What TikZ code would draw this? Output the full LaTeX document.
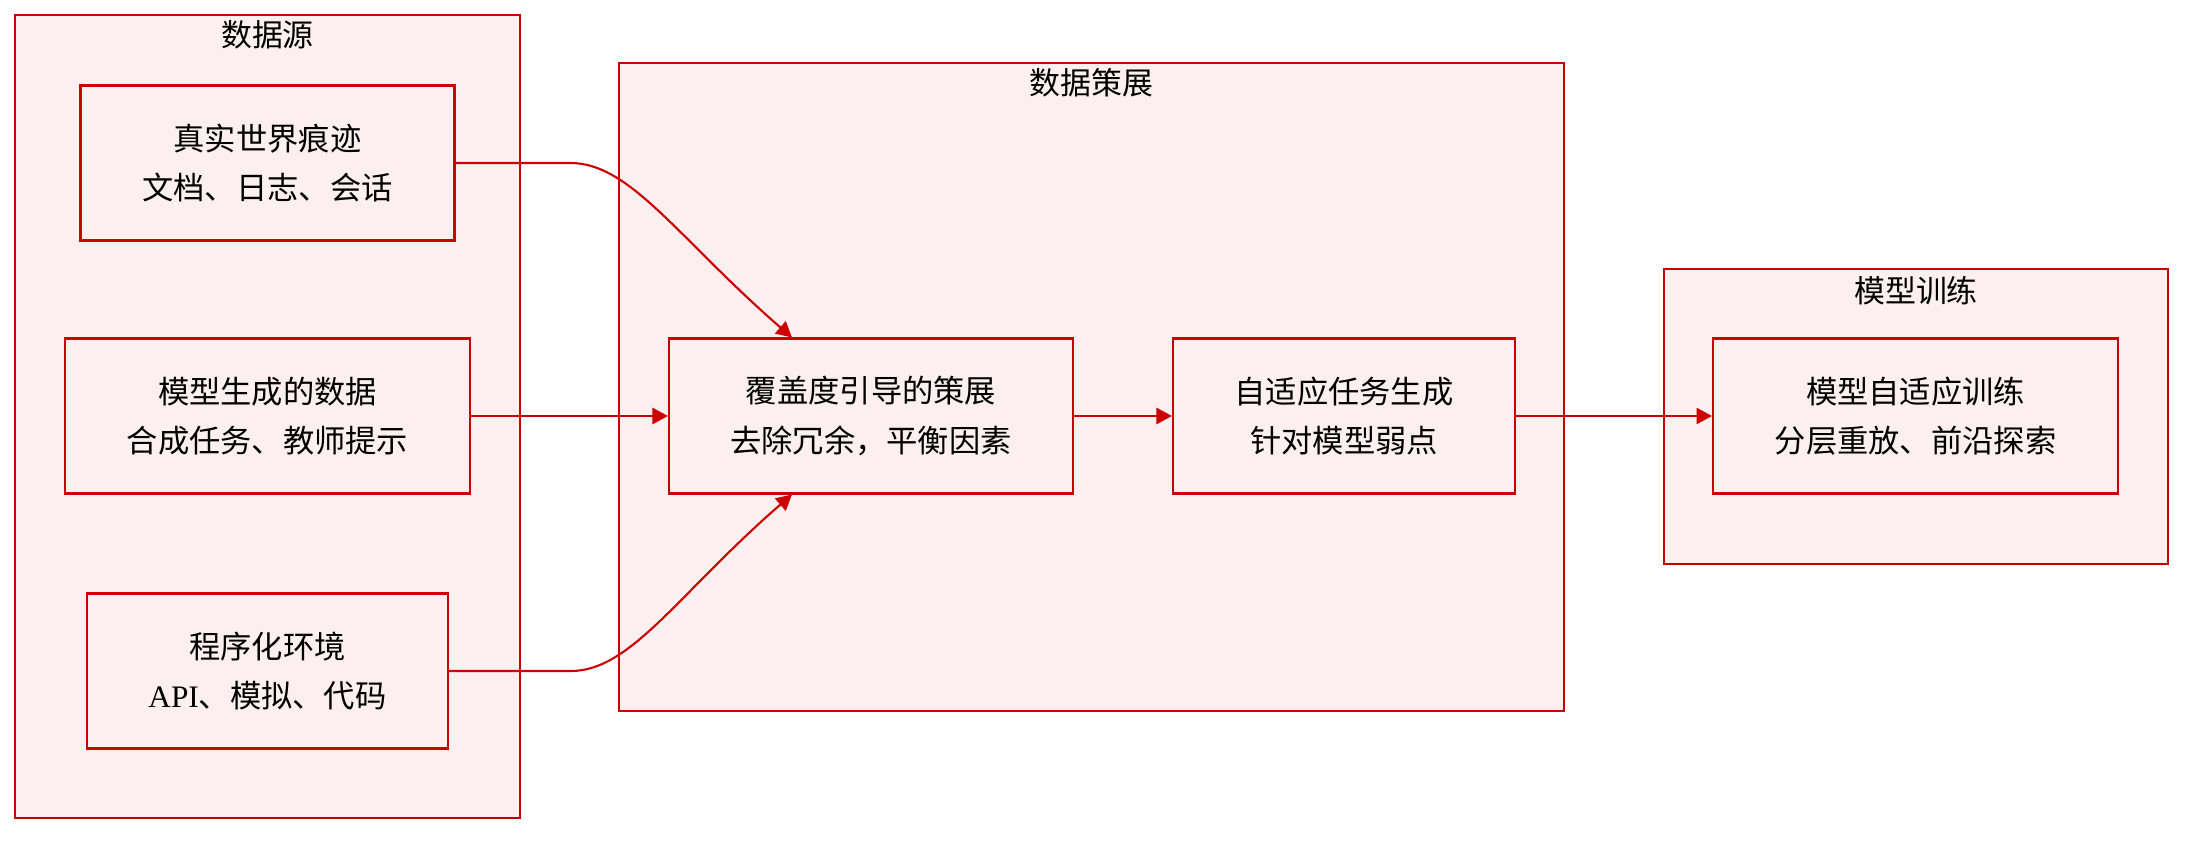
\documentclass[tikz,border=0pt]{standalone}
\usepackage{fontspec}
\setmainfont{Liberation Serif}
\newfontfamily\cjk{Noto Sans CJK SC}
\usepackage{xcolor}
\usepackage{tikz}
\usetikzlibrary{arrows.meta}
\definecolor{edgered}{HTML}{CC0000}
\definecolor{boxfill}{HTML}{FCEFEF}
\tikzstyle{group} = [rectangle, draw=edgered, fill=boxfill, line width=0.6pt]
\tikzstyle{grouptitle} = [inner sep=0pt, font=\cjk\fontsize{8.8}{14}\selectfont]
\tikzstyle{process} = [rectangle, minimum height=1.55cm, text centered, align=center, draw=edgered, fill=boxfill, line width=0.6pt, font=\cjk\fontsize{8.9}{14}\selectfont]
\tikzstyle{arrow} = [line width=0.6pt, draw=edgered, ->, >={Triangle[length=4.4pt,width=4.6pt]}]

\begin{document}
\begin{tikzpicture}
   \useasboundingbox (0,0) rectangle (22,8.4);
   % groups
   \node (src) [group, minimum width=5.05cm, minimum height=8.03cm] at (2.675,4.235) {};
   \node (cur) [group, minimum width=9.45cm, minimum height=6.48cm] at (10.915,4.53) {};
   \node (trn) [group, minimum width=5.04cm, minimum height=2.95cm] at (19.16,4.235) {};
   \node (srcT) [grouptitle] at ([yshift=-0.21cm]src.north) {数据源};
   \node (curT) [grouptitle] at ([yshift=-0.21cm]cur.north) {数据策展};
   \node (trnT) [grouptitle] at ([yshift=-0.23cm]trn.north) {模型训练};
   % steps
   \node (real) [process, minimum width=3.74cm] at (2.675,6.77) {真实世界痕迹\\文档、日志、会话};
   \node (synth) [process, minimum width=4.05cm] at (2.675,4.24) {模型生成的数据\\合成任务、教师提示};
   \node (env) [process, minimum width=3.61cm] at (2.675,1.69) {程序化环境\\{\rmfamily API}、模拟、代码};
   \node (cover) [process, minimum width=4.04cm] at (8.71,4.24) {覆盖度引导的策展\\去除冗余，平衡因素};
   \node (adapt) [process, minimum width=3.42cm] at (13.44,4.24) {自适应任务生成\\针对模型弱点};
   \node (train) [process, minimum width=4.05cm] at (19.155,4.24) {模型自适应训练\\分层重放、前沿探索};
   % edges
   \draw [arrow] (real.east) -- ++(1.15,0) .. controls +(0.6,0) and +(-1.13,0.98) .. ([xshift=1.24cm]cover.north west);
   \draw [arrow] (synth) -- (cover);
   \draw [arrow] (env.east) -- ++(1.22,0) .. controls +(0.6,0) and +(-1.13,-0.98) .. ([xshift=1.24cm]cover.south west);
   \draw [arrow] (cover) -- (adapt);
   \draw [arrow] (adapt) -- (train);
\end{tikzpicture}
\end{document}
